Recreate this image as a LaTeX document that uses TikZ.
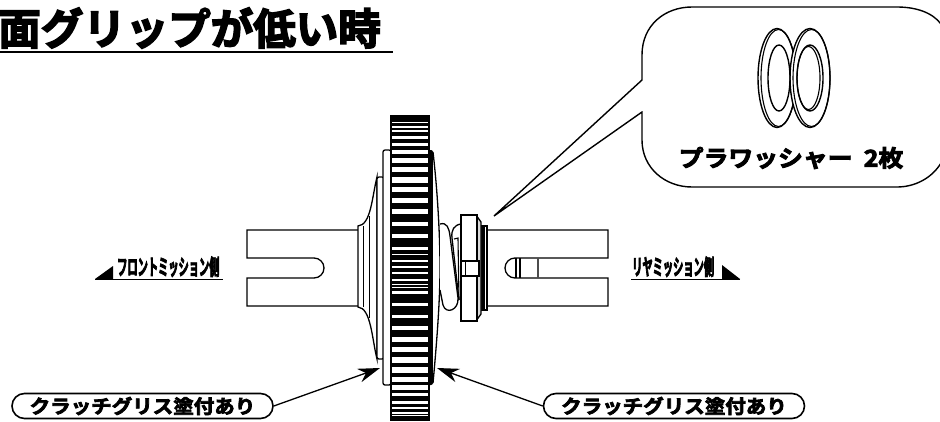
\documentclass[tikz,border=0pt]{standalone}
\usepackage{fontspec}
\usepackage{tikz}
\usetikzlibrary{arrows.meta,shapes.misc}
\newfontfamily\jpfont[FakeBold=4,FakeStretch=1.08]{Noto Sans CJK JP Bold}
\newfontfamily\jptitle[FakeBold=4]{Noto Sans CJK JP Bold}
\newfontfamily\jpnarrow[FakeStretch=0.465,FakeBold=3]{Noto Sans CJK JP Bold}
\tikzset{
    part/.style={draw=black,line width=1.3pt,fill=white},
    pill/.style={draw=black,line width=1.6pt,fill=white,rounded rectangle,minimum width=261pt,minimum height=25pt,inner sep=0pt,font=\jpfont\fontsize{19}{19}\selectfont},
    pointer/.style={line width=1.3pt,-{Stealth[length=22pt,width=14pt]}}
}
\begin{document}
\begin{tikzpicture}[x=1pt,y=-1pt]
    \useasboundingbox (0,0) rectangle (940,421);

    % title
    \node[anchor=east,inner sep=0pt,font=\jptitle\fontsize{42.5}{42.5}\selectfont] (title) at (381,28) {面グリップが低い時};
    \draw[line width=1.8pt] (0,52) -- (393,52);

    % forks
    \draw[part] (358,230) -- (247,230) -- (247,258) -- (314,258) arc (-90:90:10) -- (247,278) -- (247,306) -- (358,306);
    \draw[part] (487,230) -- (608,230) -- (608,258) -- (515,258) arc (-90:-270:10) -- (608,278) -- (608,306) -- (487,306);
    \draw[line width=1.6pt] (516,258) -- (516,278);
    \draw[line width=1.6pt] (520,258) -- (520,278);
    \draw[line width=1.4pt,black!70] (538,258) -- (538,278);

    % hub left
    \draw[part] (377,177) .. controls (372,197) and (371,225) .. (358,226) -- (358,307) .. controls (371,308) and (372,339) .. (377,359) -- cycle;
    \draw[line width=.6pt] (363,226) -- (363,307);
    \draw[line width=.8pt] (369,216) -- (369,318);
    \draw[part,rounded corners=2pt] (377,177) rectangle (384,359);
    \draw[part,rounded corners=2pt] (383,150) rectangle (391,385);

    % gear
    \fill[black] (390,115) rectangle (430,421);
    \foreach \y/\h in {122/1,126/1.5,130/1.5,136/2.5,143/3,150/3.5,158/4.5,167/5,177/6,187/5,198/5,209/5,222/4,234/4,247/3,254/1,260/2,266/2,272/2,279/2,284/1,287/1,291/3,303/3,314.5/3.5,326/4,337/5,347/5,357/6,367/6,377/5,385/5,393/3,401/3,407/2,412/2,415/1}{
        \fill[white] (392,\y) rectangle (428,\y+\h);
    }
    \fill[black,rounded corners=2pt] (428,150) rectangle (433,385);

    % disc and spring
    \draw[part] (433,152) .. controls (438,195) and (440,240) .. (440,268) .. controls (440,300) and (437,340) .. (433,383);
    \draw[part] (440,224) .. controls (447,222) and (449,228) .. (450,236) -- (458,298) .. controls (459,310) and (446,315) .. (443,305) -- (440,290);
    \draw[part] (461,224) .. controls (454,225) and (451,230) .. (452,238) -- (459,300);
    \draw[line width=1.1pt] (454,239) -- (458,238) -- (459,300);

    % collar
    \draw[part] (484,226) rectangle (487,310);
    \fill[black] (481,225) rectangle (484,311);
    \draw[part,fill=black!15] (461,215) -- (476,215) -- (481,222) -- (481,314) -- (476,321) -- (461,321) -- cycle;
    \draw[part] (461,215) rectangle (477,321);
    \draw[part] (461,261) rectangle (479,276);
    \draw[line width=1pt] (465,261) -- (465,276);

    % callout
    \draw[line width=1.4pt,fill=white] (494,216) -- (642,80) -- (642,55) .. controls (642,25) and (665,7) .. (692,7) -- (897,7) .. controls (915,7) and (932,12) .. (941,24) -- (941,163) .. controls (932,178) and (915,187) .. (897,187) -- (692,187) .. controls (665,187) and (642,168) .. (642,140) -- (642,112) -- cycle;
    \fill[white] (642,81.5) rectangle (644,110.5);

    % washers
    \foreach \cx/\rx in {777/19,810/20}{
        \draw[line width=1.4pt,fill=white] (\cx,78) ellipse ({\rx} and 49.5);
        \draw[line width=1.1pt] (\cx+1.5,78) ellipse ({\rx-1.5} and 48.5);
    }
    \draw[line width=1.4pt] (779,78) ellipse (11 and 33);
    \draw[line width=1.4pt,fill=white] (810,78) ellipse (13 and 33);
    \draw[line width=1.1pt] (808.5,78) ellipse (11.5 and 31.5);
    \node[inner sep=0pt,font=\jpfont\fontsize{23}{23}\selectfont] (washer) at (791,158) {プラワッシャー\ \ 2枚};

    % side labels
    \node[anchor=base west,inner sep=0pt,font=\jpnarrow\fontsize{22}{22}\selectfont] (front) at (117,275) {フロントミッション側};
    \draw[line width=1pt] (95,279) -- (223,279);
    \fill (95,279) -- (113,266) -- (113,279) -- cycle;
    \node[anchor=base west,inner sep=0pt,font=\jpnarrow\fontsize{22}{22}\selectfont] (rear) at (632,275) {リヤミッション側};
    \draw[line width=1pt] (631,279) -- (740,279);
    \fill (740,279) -- (722,265) -- (722,279) -- cycle;

    % grease labels
    \node[pill] (greaseL) at (142.5,406) {クラッチグリス塗付あり};
    \node[pill] (greaseR) at (674,406) {クラッチグリス塗付あり};
    \coordinate (tipL) at (380,368);
    \coordinate (tipR) at (437,368);
    \draw[pointer] (greaseL.east) -- (tipL);
    \draw[pointer] (greaseR.west) -- (tipR);
\end{tikzpicture}
\end{document}
